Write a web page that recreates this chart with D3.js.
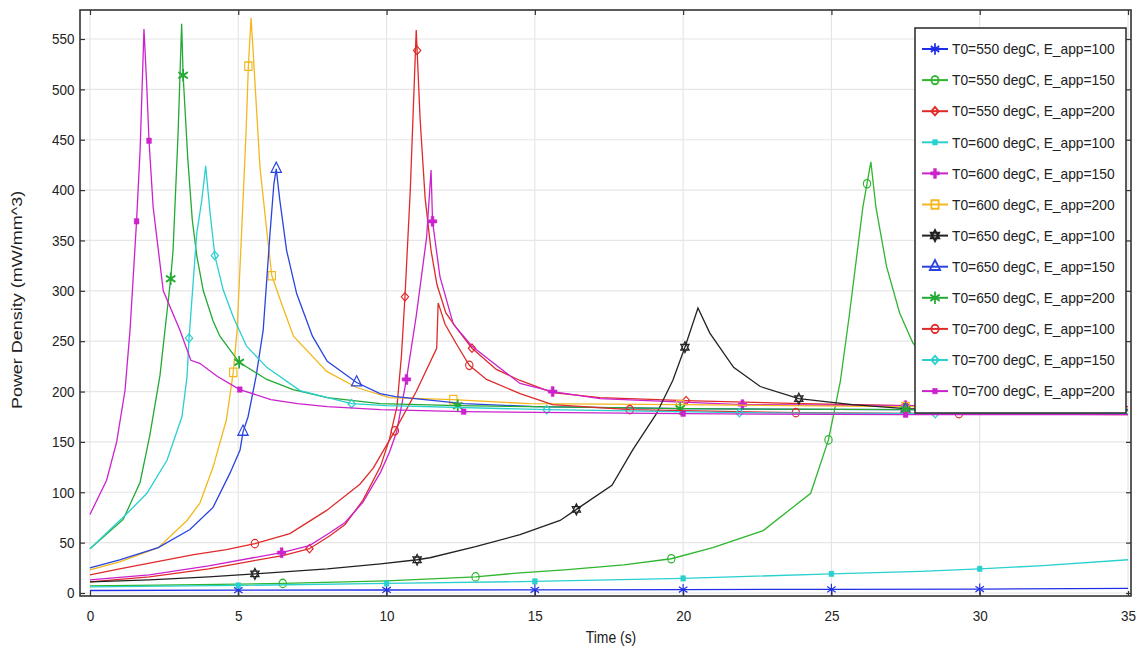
<!DOCTYPE html>
<html>
<head>
<meta charset="utf-8">
<script src="https://cdn.jsdelivr.net/npm/d3@7"></script>
<style>
  body { margin: 0; background: #fff; }
  text { font-family: "Liberation Sans", Arial, sans-serif; fill: #222; }
</style>
</head>
<body>
<svg id="chart" width="1141" height="648"></svg>
<script>
// tick values
const xTicks = [0, 5, 10, 15, 20, 25, 30, 35];
const yTicks = [0, 50, 100, 150, 200, 250, 300, 350, 400, 450, 500, 550];

// series labels (legend order)
const labels = [
  "T0=550 degC, E_app=100", "T0=550 degC, E_app=150", "T0=550 degC, E_app=200",
  "T0=600 degC, E_app=100", "T0=600 degC, E_app=150", "T0=600 degC, E_app=200",
  "T0=650 degC, E_app=100", "T0=650 degC, E_app=150", "T0=650 degC, E_app=200",
  "T0=700 degC, E_app=100", "T0=700 degC, E_app=150", "T0=700 degC, E_app=200"
];

// T0=550, E_app=100
const t550_100 = [0, 5, 10, 15, 20, 25, 30, 35];
const v550_100 = [2.5, 2.8, 3.0, 3.2, 3.4, 3.6, 3.9, 4.5];
const m550_100 = [5, 10, 15, 20, 25, 30];

// T0=550, E_app=150
const t550_150 = [0, 3, 6.5, 10, 13, 14.5, 16, 18, 19.6, 21, 22.7, 24.3, 24.9, 25.3, 25.6, 26.06, 26.33, 26.5, 26.86, 27.3, 27.75, 28.5, 30, 32, 35];
const v550_150 = [7, 8, 9.5, 12, 16, 20, 23, 28, 34, 45, 62, 99, 152, 210, 275, 383, 428, 383, 324, 278, 248, 222, 203, 192, 185];
const m550_150 = [6.5, 13, 19.6, 24.9, 26.2];

// T0=550, E_app=200
const t550_200 = [0, 2, 4, 5.5, 6.5, 7.4, 8.1, 8.6, 9.2, 9.8, 10.1, 10.35, 10.5, 10.62, 10.8, 11.0, 11.13, 11.3, 11.5, 11.7, 12.0, 12.36, 12.88, 13.7, 14.5, 15.6, 17.2, 20.1, 24, 27.5, 35];
const v550_200 = [11, 16, 24, 32, 37, 44, 57, 68, 92, 126, 153, 185, 235, 294, 400, 559, 471, 392, 340, 306, 278, 263, 243, 222, 211, 199, 194, 191, 188, 186, 184];
const m550_200 = [7.4, 10.62, 11.03, 12.88, 20.1, 27.5];

// T0=600, E_app=100
const t600_100 = [0, 5, 10, 15, 20, 25, 28, 30, 32, 35];
const v600_100 = [6, 7.5, 9.5, 11.5, 14.5, 19, 21.5, 24, 27, 33];
const m600_100 = [5, 10, 15, 20, 25, 30];

// T0=600, E_app=150
const t600_150 = [0, 2, 4, 5.5, 6.46, 7.4, 8.1, 8.6, 9.2, 9.8, 10.1, 10.34, 10.67, 11.0, 11.35, 11.5, 11.55, 11.8, 12.25, 12.88, 13.7, 14.5, 15.6, 17.2, 22, 27.5, 35];
const v600_150 = [13, 18, 27, 35, 40, 47, 60, 70, 90, 120, 140, 160, 212, 275, 353, 420, 369, 314, 267, 245, 226, 208, 200, 193, 187, 186, 185];
const m600_150 = [6.46, 10.67, 11.55, 15.6, 22, 27.5];

// T0=600, E_app=200
const t600_200 = [0, 1, 2.3, 3.27, 3.7, 4.15, 4.6, 4.83, 4.96, 5.11, 5.26, 5.34, 5.43, 5.5, 5.73, 5.97, 6.13, 6.5, 6.86, 7.98, 8.99, 10.1, 12.25, 14.8, 20, 27.5, 35];
const v600_200 = [23, 31, 45, 72, 89, 125, 172, 219, 261, 357, 456, 523, 571, 538, 423, 357, 315, 284, 255, 220, 204, 194, 192, 188, 187, 185, 184];
const m600_200 = [4.83, 5.34, 6.13, 12.25, 19.9, 27.5];

// T0=650, E_app=100
const t650_100 = [0, 2, 4, 5.56, 8, 9.8, 11.03, 11.46, 13, 14.5, 15.85, 16.4, 17.6, 18.3, 19.1, 19.65, 20.06, 20.5, 20.9, 21.7, 22.6, 23.9, 25.7, 27.5, 35];
const v650_100 = [11, 13, 16, 19, 24, 29, 33, 35, 46, 58, 72, 83, 107, 142, 178, 211, 244, 283, 258, 224, 205, 193, 187, 183, 181];
const m650_100 = [5.56, 11.03, 16.4, 20.06, 23.9];

// T0=650, E_app=150
const t650_150 = [0, 1, 2.3, 3.37, 4.15, 4.72, 5.06, 5.16, 5.33, 5.6, 5.84, 6.07, 6.2, 6.28, 6.4, 6.63, 6.97, 7.5, 8.0, 8.99, 9.78, 10.3, 12.6, 15, 20, 27.5, 35];
const v650_150 = [25, 33, 45, 63, 85, 119, 142, 160, 175, 215, 261, 357, 406, 421, 390, 340, 297, 255, 230, 209, 198, 195, 188, 185, 183, 182, 182];
const m650_150 = [5.16, 6.28, 8.99, 27.5];

// T0=650, E_app=200
const t650_200 = [0, 1.12, 1.69, 2.02, 2.36, 2.72, 2.8, 2.97, 3.09, 3.14, 3.3, 3.45, 3.6, 3.82, 4.15, 4.38, 5.03, 5.96, 6.85, 8, 9.78, 12.4, 15, 20, 27.5, 35];
const v650_200 = [44, 73, 110, 157, 216, 312, 340, 456, 565, 514, 430, 370, 335, 300, 270, 255, 229, 212, 202, 194, 188, 186, 185, 183, 182, 181];
const m650_200 = [2.72, 3.14, 5.03, 12.4, 19.9, 27.5];

// T0=700, E_app=100
const t700_100 = [0, 1, 2.4, 3.5, 4.6, 5.56, 6.74, 7.98, 9.1, 9.55, 10.28, 11.0, 11.69, 11.74, 11.97, 12.36, 12.79, 13.37, 14.5, 15.6, 18.2, 23.8, 29.3, 35];
const v700_100 = [18, 24, 32, 38, 43, 49, 59, 82, 108, 124, 161, 200, 243, 288, 267, 247, 226, 212, 198, 187, 182, 179, 178, 177];
const m700_100 = [5.56, 10.28, 12.79, 18.2, 23.8, 29.3];

// T0=700, E_app=150
const t700_150 = [0, 1.25, 1.92, 2.6, 3.1, 3.27, 3.34, 3.6, 3.77, 3.9, 4.05, 4.21, 4.49, 4.83, 5.28, 5.96, 7.08, 8.82, 10, 15.4, 21.9, 28.5, 35];
const v700_150 = [44, 79, 99, 132, 175, 214, 253, 357, 390, 424, 377, 335, 301, 274, 245, 224, 201, 188, 186, 182, 179, 178, 178];
const m700_150 = [3.34, 4.21, 8.82, 15.4, 21.9, 28.5];

// T0=700, E_app=200
const t700_200 = [0, 0.56, 0.9, 1.18, 1.35, 1.57, 1.69, 1.82, 1.91, 1.99, 2.13, 2.47, 3.03, 3.4, 3.7, 4.3, 5.05, 6.1, 7, 8, 9.8, 12.6, 20, 27.5, 35];
const v700_200 = [78, 112, 150, 201, 261, 369, 440, 560, 506, 449, 383, 300, 261, 231, 228, 215, 202, 192, 188, 185, 182, 180, 178, 177, 177];
const m700_200 = [1.57, 1.99, 5.05, 12.6, 20, 27.5];

const times = [t550_100, t550_150, t550_200, t600_100, t600_150, t600_200, t650_100, t650_150, t650_200, t700_100, t700_150, t700_200];
const values = [v550_100, v550_150, v550_200, v600_100, v600_150, v600_200, v650_100, v650_150, v650_200, v700_100, v700_150, v700_200];
const markTimes = [m550_100, m550_150, m550_200, m600_100, m600_150, m600_200, m650_100, m650_150, m650_200, m700_100, m700_150, m700_200];

// styles
const colors = ["#1f2fe8", "#2fb52f", "#e02a2a", "#2acfcf", "#cc22cc", "#f4b81e",
                "#222222", "#2a44e0", "#22aa33", "#e02a2a", "#2acfcf", "#cc22cc"];
const markers = ["asterisk", "circle", "diamond", "sqfill", "plus", "square",
                 "hexagram", "triangle", "asterisk2", "circle", "diamond", "sqfill"];

const svg = d3.select("#chart");
const frame = { left: 80, right: 1131, top: 10, bottom: 596 };

const x = d3.scaleLinear().domain([0, 35]).range([90, 1128]);
const y = d3.scaleLinear().domain([0, 550]).range([593, 39]);

// grid
svg.append("g").selectAll("line").data(yTicks).enter().append("line")
  .attr("x1", frame.left).attr("x2", frame.right)
  .attr("y1", d => y(d)).attr("y2", d => y(d))
  .attr("stroke", "#e6e6e6").attr("stroke-width", 1.2);
svg.append("g").selectAll("line").data(xTicks).enter().append("line")
  .attr("x1", d => x(d)).attr("x2", d => x(d))
  .attr("y1", frame.top).attr("y2", frame.bottom)
  .attr("stroke", "#e6e6e6").attr("stroke-width", 1.2);

// clip
svg.append("clipPath").attr("id", "clip").append("rect")
  .attr("x", frame.left).attr("y", frame.top)
  .attr("width", frame.right - frame.left).attr("height", frame.bottom - frame.top);

// hexagram symbol
const symbolHexagram = {
  draw(context, size) {
    const r = Math.sqrt(size / 2.6);
    for (let k = 0; k < 2; k++) {
      for (let i = 0; i < 3; i++) {
        const a = (k * 60 + i * 120 - 90) * Math.PI / 180;
        const px = r * Math.cos(a), py = r * Math.sin(a);
        if (i === 0) context.moveTo(px, py); else context.lineTo(px, py);
      }
      context.closePath();
    }
  }
};

function markerPath(type) {
  const s = {
    asterisk: [d3.symbolAsterisk, 90], asterisk2: [d3.symbolAsterisk, 110],
    circle: [d3.symbolCircle, 55], diamond: [d3.symbolDiamond2, 45],
    sqfill: [d3.symbolSquare, 30], plus: [d3.symbolCross, 55],
    square: [d3.symbolSquare, 70], hexagram: [symbolHexagram, 80],
    triangle: [d3.symbolTriangle, 60]
  }[type];
  return d3.symbol().type(s[0]).size(s[1])();
}

function markerStyle(sel, type, color) {
  const filled = type === "sqfill" || type === "plus";
  sel.attr("fill", filled ? color : "none")
    .attr("stroke", color)
    .attr("stroke-width", type === "asterisk2" ? 2 : (filled ? 0.5 : 1.3));
}

function interp(ts, vs, t) {
  for (let i = 1; i < ts.length; i++) {
    if (t <= ts[i]) {
      const f = (t - ts[i - 1]) / (ts[i] - ts[i - 1]);
      return vs[i - 1] + f * (vs[i] - vs[i - 1]);
    }
  }
  return vs[vs.length - 1];
}

const line = d3.line().x(d => x(d[0])).y(d => y(d[1]));
const plot = svg.append("g").attr("clip-path", "url(#clip)");

labels.forEach((lab, i) => {
  const pts = times[i].map((t, j) => [t, values[i][j]]);
  plot.append("path")
    .attr("d", line(pts))
    .attr("fill", "none")
    .attr("stroke", colors[i])
    .attr("stroke-width", 1.3);
  plot.selectAll(null).data(markTimes[i]).enter().append("path")
    .attr("d", markerPath(markers[i]))
    .attr("transform", t => `translate(${x(t)},${y(interp(times[i], values[i], t))}) scale(0.87,1)`)
    .call(markerStyle, markers[i], colors[i]);
});

// axes (ticks inward on all sides)
const gx = svg.append("g").attr("transform", `translate(0,${frame.bottom})`)
  .call(d3.axisBottom(x).tickValues(xTicks).tickSizeInner(-5).tickSizeOuter(0).tickPadding(14));
const gy = svg.append("g").attr("transform", `translate(${frame.left},0)`)
  .call(d3.axisLeft(y).tickValues(yTicks).tickSizeInner(-5).tickSizeOuter(0).tickPadding(6));
svg.append("g").attr("transform", `translate(0,${frame.top})`)
  .call(d3.axisTop(x).tickValues(xTicks).tickSizeInner(-5).tickSizeOuter(0).tickFormat(""));
svg.append("g").attr("transform", `translate(${frame.right},0)`)
  .call(d3.axisRight(y).tickValues(yTicks).tickSizeInner(-5).tickSizeOuter(0).tickFormat(""));
svg.selectAll(".domain").remove();
svg.selectAll(".tick line").attr("stroke", "#333").attr("stroke-width", 1.2);
[gx, gy].forEach(g => g.selectAll("text")
  .attr("font-size", 15).attr("fill", "#222")
  .attr("font-family", "Liberation Sans, Arial, sans-serif")
  .attr("transform", "scale(0.9,1)"));

// frame
svg.append("rect")
  .attr("x", frame.left).attr("y", frame.top)
  .attr("width", frame.right - frame.left).attr("height", frame.bottom - frame.top)
  .attr("fill", "none").attr("stroke", "#333").attr("stroke-width", 1.6);

// axis titles
svg.append("text")
  .attr("transform", "translate(611,637) scale(0.87,1)")
  .attr("text-anchor", "middle").attr("dominant-baseline", "central")
  .attr("font-size", 16).text("Time (s)");
svg.append("text")
  .attr("transform", "translate(17,300) rotate(-90) scale(1,0.85)")
  .attr("text-anchor", "middle").attr("dominant-baseline", "central")
  .attr("font-size", 18).text("Power Density (mW/mm^3)");

// legend
const legend = svg.append("g");
legend.append("rect")
  .attr("x", 915).attr("y", 28).attr("width", 211).attr("height", 385)
  .attr("fill", "#fff").attr("stroke", "#333").attr("stroke-width", 1.6);
labels.forEach((lab, i) => {
  const ly = 49 + i * 31.1;
  legend.append("line")
    .attr("x1", 922).attr("x2", 948).attr("y1", ly).attr("y2", ly)
    .attr("stroke", colors[i]).attr("stroke-width", 2);
  legend.append("path")
    .attr("d", markerPath(markers[i]))
    .attr("transform", `translate(935,${ly}) scale(0.87,1)`)
    .call(markerStyle, markers[i], colors[i])
    .attr("stroke-width", markers[i] === "sqfill" || markers[i] === "plus" ? 0.5 : 2);
  legend.append("text")
    .attr("transform", `translate(952,${ly}) scale(0.92,1)`)
    .attr("dominant-baseline", "central")
    .attr("font-size", 15).text(lab);
});
</script>
</body>
</html>
